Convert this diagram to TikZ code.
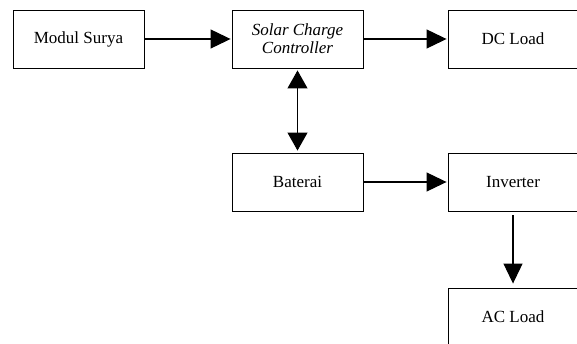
\documentclass[tikz,border=0pt]{standalone}
\usepackage{fontspec}
\setmainfont{Liberation Serif}
\usetikzlibrary{arrows.meta}
\begin{document}
\begin{tikzpicture}[x=1pt,y=-1pt,
  blockbox/.style={draw=black, line width=0.9pt, minimum width=131pt, minimum height=58pt, inner sep=0pt, font=\fontsize{17}{19}\selectfont, align=center},
  conn/.style={line width=1.1pt, -{Triangle[length=20pt,width=19pt]}},
  biconn/.style={line width=1.1pt, {Triangle[length=18pt,width=20pt]}-{Triangle[length=18pt,width=20pt]}}]
\useasboundingbox (0,0) rectangle (577,344);
\node[blockbox] (modul) at (78.5,39) {Modul Surya};
\node[blockbox] (scc) at (297.5,39) {\itshape Solar Charge\\[-1pt]\itshape Controller};
\node[blockbox, minimum width=130pt] (dc) at (513,39) {DC Load};
\node[blockbox] (bat) at (297.5,182) {Baterai};
\node[blockbox, minimum width=130pt] (inv) at (513,182) {Inverter};
\node[blockbox, minimum width=130pt] (ac) at (513,317) {AC Load};
\draw[conn, shorten >=1pt] (modul.east) -- (scc.west);
\draw[conn, shorten >=1pt] (scc.east) -- (dc.west);
\draw[biconn, shorten <=2pt, shorten >=2pt] (scc.south) -- (bat.north);
\draw[conn, shorten >=1pt] (bat.east) -- (inv.west);
\draw[conn, shorten <=4pt, shorten >=4pt] (inv.south) -- (ac.north);
\end{tikzpicture}
\end{document}
